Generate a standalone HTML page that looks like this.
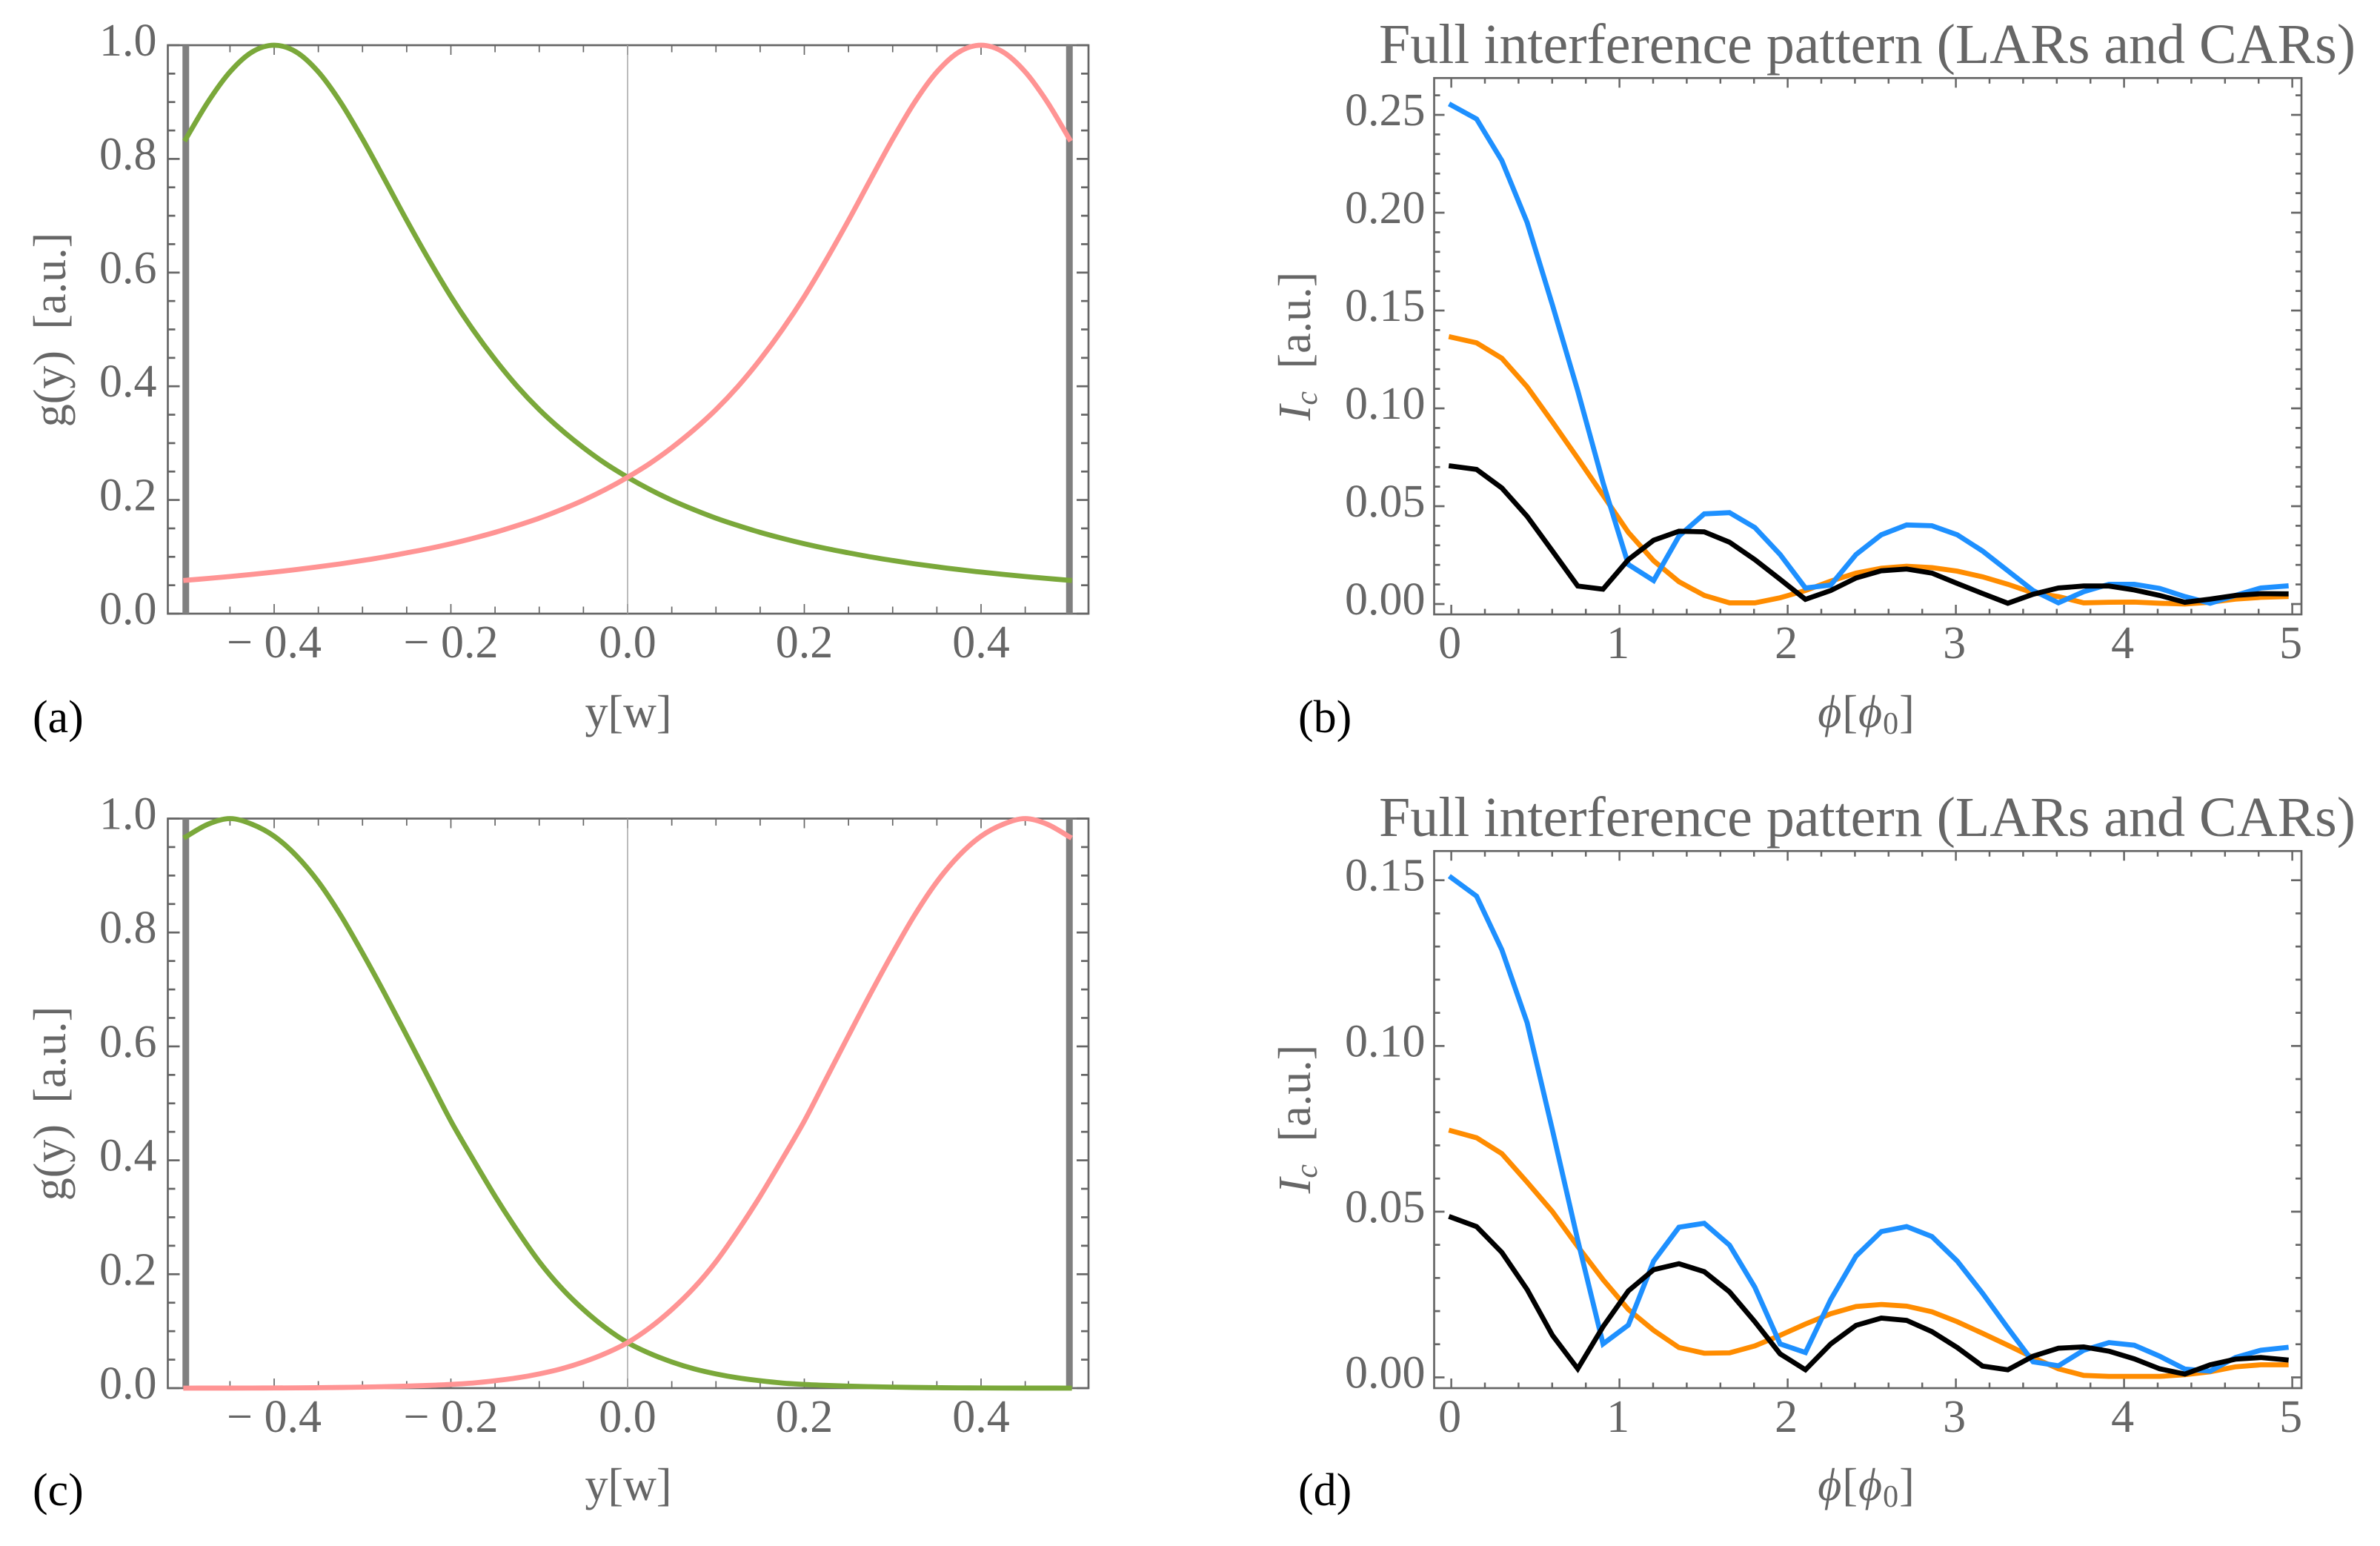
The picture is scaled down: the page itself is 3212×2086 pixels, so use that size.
<!DOCTYPE html>
<html>
<head>
<meta charset="utf-8">
<title>Interference pattern figure</title>
<style>
html,body{margin:0;padding:0;background:#fff;}
svg{display:block;}
text{font-family:"Liberation Serif",serif;fill:#666;}
.tick{font-size:62px;}
.axis{font-size:62px;}
.title{font-size:76px;}
.panel{font-size:62px;fill:#000;}
.it{font-style:italic;}
</style>
</head>
<body>
<svg id="fig" xmlns="http://www.w3.org/2000/svg" width="3212" height="2086" viewBox="0 0 3212 2086">
  <rect x="0" y="0" width="3212" height="2086" fill="#fff"/>

  <text class="axis" text-anchor="middle" word-spacing="13" transform="translate(88 445) rotate(-90)">g(y) [a.u.]</text>
  <text class="axis" text-anchor="middle" x="848" y="981">y[w]</text>
  <text class="panel" x="44" y="988">(a)</text>

  <text class="title" x="1861" y="85" textLength="1318">Full interference pattern (LARs and CARs)</text>
  <text class="axis" text-anchor="middle" word-spacing="15" transform="translate(1768 467) rotate(-90)"><tspan class="it">I</tspan><tspan class="it" font-size="42" dy="9">c</tspan><tspan dy="-9"> [a.u.]</tspan></text>
  <text class="axis" text-anchor="middle" letter-spacing="1" x="2519" y="981"><tspan class="it">ϕ</tspan>[<tspan class="it">ϕ</tspan><tspan font-size="42" dy="9">0</tspan><tspan dy="-9">]</tspan></text>
  <text class="panel" x="1752" y="988">(b)</text>

  <text class="axis" text-anchor="middle" word-spacing="13" transform="translate(88 1489) rotate(-90)">g(y) [a.u.]</text>
  <text class="axis" text-anchor="middle" x="848" y="2024">y[w]</text>
  <text class="panel" x="44" y="2031">(c)</text>

  <text class="title" x="1861" y="1128" textLength="1318">Full interference pattern (LARs and CARs)</text>
  <text class="axis" text-anchor="middle" word-spacing="15" transform="translate(1768 1510) rotate(-90)"><tspan class="it">I</tspan><tspan class="it" font-size="42" dy="9">c</tspan><tspan dy="-9"> [a.u.]</tspan></text>
  <text class="axis" text-anchor="middle" letter-spacing="1" x="2519" y="2024"><tspan class="it">ϕ</tspan>[<tspan class="it">ϕ</tspan><tspan font-size="42" dy="9">0</tspan><tspan dy="-9">]</tspan></text>
  <text class="panel" x="1752" y="2031">(d)</text>
</svg>

<script>
// ---- shared categories ----
const widthSamples = [-0.5,-0.475,-0.45,-0.425,-0.4,-0.375,-0.35,-0.325,-0.3,-0.275,-0.25,-0.225,-0.2,-0.175,-0.15,-0.125,-0.1,-0.075,-0.05,-0.025,0,0.025,0.05,0.075,0.1,0.125,0.15,0.175,0.2,0.225,0.25,0.275,0.3,0.325,0.35,0.375,0.4,0.425,0.45,0.475,0.5];
const phiSamples = [0,0.1504,0.3008,0.4512,0.6016,0.752,0.9024,1.0528,1.2032,1.3536,1.504,1.6544,1.8048,1.9552,2.1056,2.256,2.4064,2.5568,2.7072,2.8576,3.008,3.1584,3.3088,3.4592,3.6096,3.76,3.9104,4.0608,4.2112,4.3616,4.512,4.6624,4.8128,4.9632];

// ---- panel (a) ----
const aGreen = [0.835,0.9,0.953,0.988,1,0.988,0.953,0.9,0.835,0.764,0.692,0.623,0.558,0.4995,0.447,0.4,0.359,0.3235,0.292,0.264,0.24,0.2185,0.1996,0.183,0.168,0.155,0.143,0.1325,0.123,0.1145,0.107,0.0998,0.0935,0.0876,0.0824,0.0775,0.0731,0.0691,0.0653,0.0619,0.0587];
const aPink  = [0.0587,0.0619,0.0653,0.0691,0.0731,0.0775,0.0824,0.0876,0.0935,0.0998,0.107,0.1145,0.123,0.1325,0.143,0.155,0.168,0.183,0.1996,0.2185,0.24,0.264,0.292,0.3235,0.359,0.4,0.447,0.4995,0.558,0.623,0.692,0.764,0.835,0.9,0.953,0.988,1,0.988,0.953,0.9,0.835];

// ---- panel (c) ----
const cGreen = [0.968,0.99,1,0.99,0.969,0.935,0.889,0.831,0.764,0.693,0.619,0.544,0.469,0.402,0.337,0.277,0.222,0.176,0.138,0.106,0.08,0.061,0.046,0.034,0.025,0.018,0.013,0.009,0.0065,0.0048,0.0035,0.0025,0.0018,0.0012,0.0008,0.0005,0.0003,0.0002,0.0001,0.0001,0];
const cPink  = [0,0.0001,0.0001,0.0002,0.0003,0.0005,0.0008,0.0012,0.0018,0.0025,0.0035,0.0048,0.0065,0.009,0.013,0.018,0.025,0.034,0.046,0.061,0.08,0.106,0.138,0.176,0.222,0.277,0.337,0.402,0.469,0.544,0.619,0.693,0.764,0.831,0.889,0.935,0.969,0.99,1,0.99,0.968];

// ---- panel (b) ----
const bOrange = [0.1364,0.1335,0.1256,0.111,0.093,0.0745,0.0556,0.0366,0.0221,0.0114,0.0044,0.0006,0.0006,0.0032,0.0069,0.0117,0.0158,0.0183,0.0193,0.0186,0.0168,0.0139,0.0101,0.0057,0.0038,0.0006,0.0009,0.001,0.0004,0,0.0009,0.0025,0.0034,0.0038];
const bBlue   = [0.255,0.2479,0.2266,0.195,0.1528,0.109,0.062,0.0202,0.012,0.0347,0.0461,0.0467,0.0391,0.0253,0.0082,0.0097,0.0253,0.0354,0.0404,0.04,0.0354,0.0271,0.017,0.0069,0.0006,0.0063,0.0101,0.0101,0.008,0.0038,0.0004,0.0044,0.0082,0.0092];
const bBlack  = [0.0705,0.0688,0.0593,0.0448,0.0271,0.0092,0.0076,0.0227,0.0326,0.0372,0.0369,0.0316,0.0227,0.0126,0.0024,0.0069,0.0133,0.017,0.0179,0.0158,0.0105,0.0054,0.0004,0.005,0.0082,0.0092,0.0092,0.0072,0.0044,0.0009,0.0025,0.0044,0.0053,0.0052];

// ---- panel (d) ----
const dOrange = [0.0744,0.0723,0.0675,0.0589,0.05,0.0395,0.0295,0.0205,0.0142,0.009,0.0073,0.0074,0.0095,0.0127,0.0161,0.0192,0.0214,0.022,0.0215,0.0198,0.0168,0.0133,0.0097,0.006,0.0026,0.0006,0.0003,0.0003,0.0003,0.0008,0.0017,0.0032,0.0038,0.0038];
const dBlue   = [0.1508,0.1452,0.129,0.107,0.0746,0.0414,0.0101,0.0158,0.0351,0.0453,0.0465,0.0399,0.0272,0.0101,0.0075,0.0235,0.0366,0.044,0.0455,0.0425,0.0351,0.0254,0.0149,0.0047,0.0035,0.0082,0.0105,0.0097,0.0064,0.0025,0.0019,0.006,0.0082,0.009];
const dBlack  = [0.0483,0.0455,0.0377,0.0265,0.0127,0.0026,0.0153,0.0261,0.0325,0.0343,0.0319,0.0258,0.0168,0.0071,0.0023,0.0101,0.0157,0.0179,0.0172,0.0138,0.009,0.0034,0.0023,0.0064,0.0088,0.0092,0.0079,0.0056,0.0026,0.001,0.0038,0.0055,0.006,0.0053];

// ---- tick values and labels ----
const leftXTickLabels = ["\u2212 0.4","\u2212 0.2","0.0","0.2","0.4"];
const leftXTicks = [-0.4,-0.2,0,0.2,0.4];
const leftXMinor = [-0.5,-0.45,-0.35,-0.3,-0.25,-0.15,-0.1,-0.05,0.05,0.1,0.15,0.25,0.3,0.35,0.45,0.5];
const leftYTicks = [0,0.2,0.4,0.6,0.8,1];
const leftYTickLabels = ["0.0","0.2","0.4","0.6","0.8","1.0"];
const leftYMinor = [0.05,0.1,0.15,0.25,0.3,0.35,0.45,0.5,0.55,0.65,0.7,0.75,0.85,0.9,0.95];
const rightXTicks = [0,1,2,3,4,5];
const rightXTickLabels = ["0","1","2","3","4","5"];
const rightXMinor = [0.2,0.4,0.6,0.8,1.2,1.4,1.6,1.8,2.2,2.4,2.6,2.8,3.2,3.4,3.6,3.8,4.2,4.4,4.6,4.8];
const bYTicks = [0,0.05,0.1,0.15,0.2,0.25];
const bYTickLabels = ["0.00","0.05","0.10","0.15","0.20","0.25"];
const bYMinor = [0.01,0.02,0.03,0.04,0.06,0.07,0.08,0.09,0.11,0.12,0.13,0.14,0.16,0.17,0.18,0.19,0.21,0.22,0.23,0.24,0.26];
const dYTicks = [0,0.05,0.1,0.15];
const dYTickLabels = ["0.00","0.05","0.10","0.15"];
const dYMinor = [0.01,0.02,0.03,0.04,0.06,0.07,0.08,0.09,0.11,0.12,0.13,0.14];

const SVGNS = "http://www.w3.org/2000/svg";
const fig = document.getElementById("fig");

function mk(tag, name, parent) {
  const el = document.createElementNS(SVGNS, tag);
  
  
  parent.appendChild(el);
  return el;
}
function line(parent, name, x1, y1, x2, y2, color, w) {
  const l = mk("line", name, parent);
  l.setAttribute("x1", x1); l.setAttribute("y1", y1);
  l.setAttribute("x2", x2); l.setAttribute("y2", y2);
  l.setAttribute("stroke", color); l.setAttribute("stroke-width", w);
  return l;
}
function straightPath(pts) {
  return pts.map((p, i) => (i ? "L" : "M") + p[0].toFixed(2) + " " + p[1].toFixed(2)).join(" ");
}
function smoothPath(pts) {
  let d = "M" + pts[0][0].toFixed(2) + " " + pts[0][1].toFixed(2);
  for (let i = 0; i < pts.length - 1; i++) {
    const p0 = pts[Math.max(i - 1, 0)], p1 = pts[i], p2 = pts[i + 1], p3 = pts[Math.min(i + 2, pts.length - 1)];
    const c1x = p1[0] + (p2[0] - p0[0]) / 6, c1y = p1[1] + (p2[1] - p0[1]) / 6;
    const c2x = p2[0] - (p3[0] - p1[0]) / 6, c2y = p2[1] - (p3[1] - p1[1]) / 6;
    d += " C" + c1x.toFixed(2) + " " + c1y.toFixed(2) + " " + c2x.toFixed(2) + " " + c2y.toFixed(2) + " " + p2[0].toFixed(2) + " " + p2[1].toFixed(2);
  }
  return d;
}
function series(parent, name, xs, ys, xFn, yFn, color, smooth) {
  const pts = xs.map((x, i) => [xFn(x), yFn(ys[i])]);
  const p = mk("path", name, parent);
  p.setAttribute("d", smooth ? smoothPath(pts) : straightPath(pts));
  p.setAttribute("fill", "none");
  p.setAttribute("stroke", color);
  p.setAttribute("stroke-width", "6.8");
  p.setAttribute("stroke-linejoin", "miter");
  p.setAttribute("stroke-linecap", "square");
  p.setAttribute("stroke-miterlimit", "4");
  return p;
}
const FRAME = "#666666";

function axes(id, box, xFn, yFn, xT, xL, xM, yT, yL, yM, o) {
  const g = mk("g", "axes-" + id, fig);
  for (const v of xM) {
    const x = xFn(v);
    line(g, "x-minor-tick", x, box.b, x, box.b - o.xMin, FRAME, o.xw);
    line(g, "x-minor-tick-top", x, box.t, x, box.t + o.xMin, FRAME, o.xw);
  }
  xT.forEach((v, i) => {
    const x = xFn(v);
    line(g, "x-major-tick", x, box.b, x, box.b - o.xMaj, FRAME, o.xw);
    line(g, "x-major-tick-top", x, box.t, x, box.t + o.xMaj, FRAME, o.xw);
    const t = mk("text", "x-tick-label", g);
    t.setAttribute("class", "tick");
    t.setAttribute("x", x - o.xShift);
    t.setAttribute("y", box.b + 59);
    t.setAttribute("text-anchor", "middle");
    t.textContent = xL[i];
  });
  for (const v of yM) {
    const y = yFn(v);
    line(g, "y-minor-tick", box.l, y, box.l + o.yMin, y, FRAME, 2.7);
    line(g, "y-minor-tick-right", box.r, y, box.r - o.yMin, y, FRAME, 2.7);
  }
  yT.forEach((v, i) => {
    const y = yFn(v);
    line(g, "y-major-tick", box.l, y, box.l + o.yMaj, y, FRAME, 2.7);
    line(g, "y-major-tick-right", box.r, y, box.r - o.yMaj, y, FRAME, 2.7);
    const t = mk("text", "y-tick-label", g);
    t.setAttribute("class", "tick");
    t.setAttribute("x", box.l - o.yGap);
    t.setAttribute("y", y + 14);
    t.setAttribute("text-anchor", "end");
    t.textContent = yL[i];
  });
  const r = mk("rect", "plot-frame-" + id, g);
  r.setAttribute("x", box.l); r.setAttribute("y", box.t);
  r.setAttribute("width", box.r - box.l); r.setAttribute("height", box.b - box.t);
  r.setAttribute("fill", "none"); r.setAttribute("stroke", FRAME); r.setAttribute("stroke-width", "2.7");
  return g;
}

const leftX = v => 847 + 1192.5 * v;
const rightX = v => 1958.6 + 227 * v;
const optsLeft = {xMin: 9.5, xMaj: 13, xw: 1.7, yMin: 10, yMaj: 16, yGap: 15, xShift: 0};
const optsRight = {xMin: 7.5, xMaj: 13, xw: 2.5, yMin: 8, yMaj: 14, yGap: 12, xShift: 2};

function leftPanel(id, box, green, pink) {
  const yFn = v => box.b - (box.b - box.t) * v;
  const g = axes(id, box, leftX, yFn, leftXTicks, leftXTickLabels, leftXMinor, leftYTicks, leftYTickLabels, leftYMinor, optsLeft);
  line(g, "center-line-" + id, leftX(0), box.t, leftX(0), box.b, "#a6a6a6", 1.5);
  line(g, "left-edge-line-" + id, leftX(-0.5), box.t, leftX(-0.5), box.b, "#808080", 9);
  line(g, "right-edge-line-" + id, leftX(0.5), box.t, leftX(0.5), box.b, "#808080", 9);
  series(g, "green-curve-" + id, widthSamples, green, leftX, yFn, "#7aa83a", true);
  series(g, "pink-curve-" + id, widthSamples, pink, leftX, yFn, "#ff9494", true);
}
function rightPanel(id, box, y0, scale, yT, yL, yM, orange, blue, black) {
  const yFn = v => y0 - scale * v;
  const g = axes(id, box, rightX, yFn, rightXTicks, rightXTickLabels, rightXMinor, yT, yL, yM, optsRight);
  series(g, "orange-curve-" + id, phiSamples, orange, rightX, yFn, "#ff8c00", false);
  series(g, "blue-curve-" + id, phiSamples, blue, rightX, yFn, "#1e90ff", false);
  series(g, "black-curve-" + id, phiSamples, black, rightX, yFn, "#000000", false);
}

leftPanel("a", {l: 226.5, r: 1469, t: 61, b: 828}, aGreen, aPink);
leftPanel("c", {l: 226.5, r: 1469, t: 1104.5, b: 1873}, cGreen, cPink);
rightPanel("b", {l: 1935.5, r: 3106, t: 105.3, b: 829}, 815, 2640, bYTicks, bYTickLabels, bYMinor, bOrange, bBlue, bBlack);
rightPanel("d", {l: 1935.5, r: 3106, t: 1148.3, b: 1873}, 1858.5, 4472, dYTicks, dYTickLabels, dYMinor, dOrange, dBlue, dBlack);
</script>
</body>
</html>
